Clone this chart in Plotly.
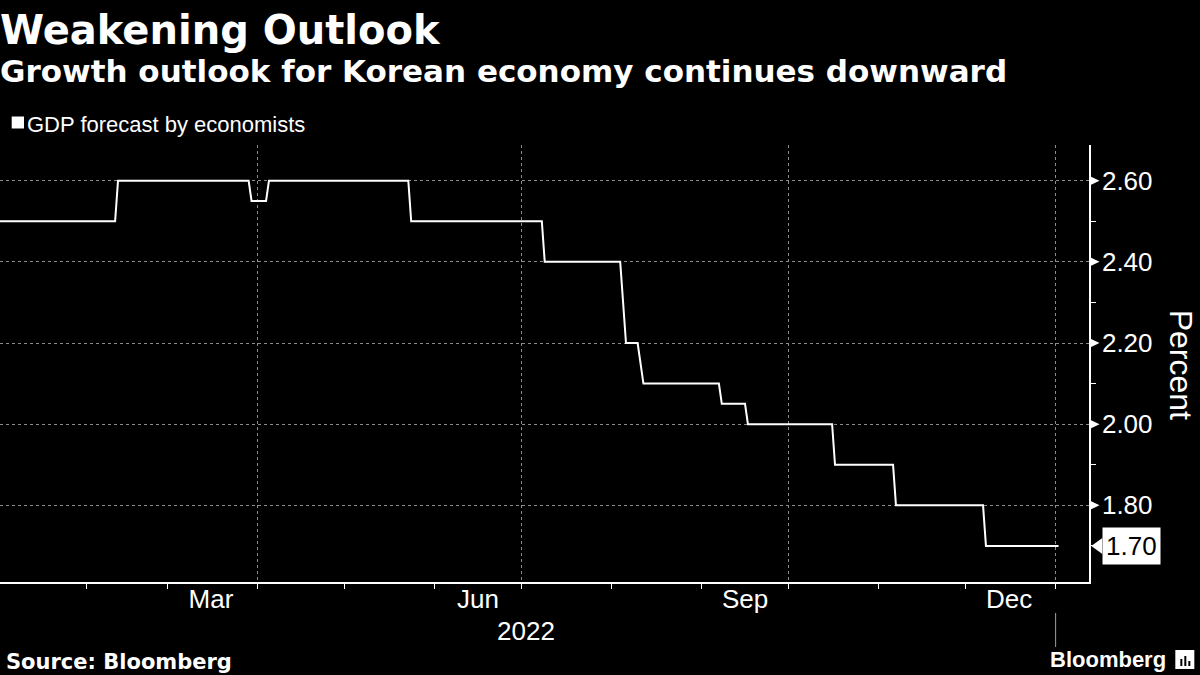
import plotly.graph_objects as go

# ---------------- data ----------------
dates = ["2022-01-01", "2022-02-11", "2022-02-12", "2022-03-29", "2022-03-30",
         "2022-04-04", "2022-04-05", "2022-05-23", "2022-05-24", "2022-07-08",
         "2022-07-09", "2022-08-04", "2022-08-06", "2022-08-10", "2022-08-12",
         "2022-09-07", "2022-09-08", "2022-09-16", "2022-09-17", "2022-10-16",
         "2022-10-17", "2022-11-06", "2022-11-07", "2022-12-07", "2022-12-08",
         "2023-01-02"]
gdp_forecast = [2.50, 2.50, 2.60, 2.60, 2.55,
                2.55, 2.60, 2.60, 2.50, 2.50,
                2.40, 2.40, 2.20, 2.20, 2.10,
                2.10, 2.05, 2.05, 2.00, 2.00,
                1.90, 1.90, 1.80, 1.80, 1.70,
                1.70]
y_ticks = [1.80, 2.00, 2.20, 2.40, 2.60]
month_label_dates = ["2022-03-16", "2022-06-16", "2022-09-16", "2022-12-16"]
month_labels = ["Mar", "Jun", "Sep", "Dec"]
year_label = "2022"
year_label_date = "2022-07-02 12:00"
year_boundary = "2023-01-01"
series_name = "GDP forecast by economists"
title = "Weakening Outlook"
subtitle = "Growth outlook for Korean economy continues downward"
source = "Source: Bloomberg"
y_title = "Percent"

# ---------------- geometry ----------------
W, H = 1200, 675
L, R, T, B = 0.0, 1088.7, 145.0, 582.0
x_range = ["2022-01-02 08:15", "2023-01-12 12:00"]
y_range = [1.611, 2.688]
px_per_unit = (B - T) / (y_range[1] - y_range[0])


def px_x(px):
    return (px - L) / (R - L)


def px_y(py):
    return (B - py) / (B - T)


WHITE = "white"
GRID = "#8c8c8c"
FONT = "Liberation Sans"
BOLD = "DejaVu Sans"

fig = go.Figure()
fig.add_trace(go.Scatter(x=dates, y=gdp_forecast, mode="lines", name=series_name,
                         line=dict(color=WHITE, width=2), showlegend=False))
fig.add_trace(go.Scatter(x=[], y=[], xaxis="x2", showlegend=False, hoverinfo="skip"))

shapes = []
# tick triangles on the right axis
tri_w = 10.5 / (R - L)
tri_h = 5.0 / px_per_unit
for v in y_ticks:
    shapes.append(dict(type="path", xref="paper", yref="y",
                       path=f"M 1,{v + tri_h} L {1 + tri_w},{v} L 1,{v - tri_h} Z",
                       fillcolor=WHITE, line=dict(width=0)))

# last value pointer
last_v = gdp_forecast[-1]
tip = px_x(1091)
base = px_x(1102)
ah = 8.0 / px_per_unit
shapes.append(dict(type="path", xref="paper", yref="y",
                   path=f"M {tip},{last_v} L {base},{last_v + ah} L {base},{last_v - ah} Z",
                   fillcolor=WHITE, line=dict(width=0)))

# year boundary marker below the axis
shapes.append(dict(type="line", xref="x", yref="paper", x0=year_boundary, x1=year_boundary,
                   y0=px_y(613), y1=px_y(647), line=dict(color="#a0a0a0", width=1)))

# legend square
shapes.append(dict(type="rect", xref="paper", yref="paper",
                   x0=px_x(11.7), x1=px_x(24), y0=px_y(128.5), y1=px_y(116.5),
                   fillcolor=WHITE, line=dict(width=0)))

# bloomberg icon
shapes.append(dict(type="rect", xref="paper", yref="paper",
                   x0=px_x(1175), x1=px_x(1194), y0=px_y(669), y1=px_y(650),
                   fillcolor=WHITE, line=dict(width=0)))
for bx, top in [(1180, 659), (1184, 656), (1188, 661)]:
    shapes.append(dict(type="rect", xref="paper", yref="paper",
                       x0=px_x(bx), x1=px_x(bx + 2), y0=px_y(666), y1=px_y(top),
                       fillcolor="black", line=dict(width=0)))

annotations = [
    dict(text=title, x=px_x(-2), y=px_y(30), xref="paper", yref="paper",
         xanchor="left", yanchor="middle", showarrow=False,
         font=dict(family=BOLD, size=40, color=WHITE, weight="bold")),
    dict(text=subtitle, x=px_x(-2), y=px_y(71), xref="paper", yref="paper",
         xanchor="left", yanchor="middle", showarrow=False,
         font=dict(family=BOLD, size=31, color=WHITE, weight="bold")),
    dict(text=series_name, x=px_x(25), y=px_y(124), xref="paper", yref="paper",
         xanchor="left", yanchor="middle", showarrow=False,
         font=dict(family=FONT, size=22, color=WHITE)),
    dict(text=source, x=px_x(4), y=px_y(662), xref="paper", yref="paper",
         xanchor="left", yanchor="middle", showarrow=False,
         font=dict(family=BOLD, size=21, color=WHITE, weight="bold")),
    dict(text="Bloomberg", x=px_x(1168), y=px_y(659), xref="paper", yref="paper",
         xanchor="right", yanchor="middle", showarrow=False,
         font=dict(family=FONT, size=22, color=WHITE, weight="bold")),
    dict(text=y_title, x=px_x(1181), y=px_y(365), xref="paper", yref="paper",
         xanchor="center", yanchor="middle", showarrow=False, textangle=90,
         font=dict(family=FONT, size=32, color=WHITE)),
    dict(text=year_label, x=year_label_date, y=px_y(631), xref="x", yref="paper",
         xanchor="center", yanchor="middle", showarrow=False,
         font=dict(family=FONT, size=26, color=WHITE)),
    dict(text=f"{last_v:.2f}", x=base - 0.0005, y=last_v, xref="paper", yref="y",
         xanchor="left", yanchor="middle", showarrow=False,
         bgcolor=WHITE, borderpad=3,
         font=dict(family=FONT, size=26, color="black")),
]

fig.update_layout(
    width=W, height=H,
    paper_bgcolor="black", plot_bgcolor="black",
    margin=dict(l=L, r=W - R, t=T, b=H - B, pad=0),
    font=dict(family=FONT, color=WHITE, size=26),
    showlegend=False,
    xaxis=dict(type="date", range=x_range, dtick="M3", tick0="2022-01-01",
               showgrid=True, gridcolor=GRID, griddash="3px,3px", gridwidth=1,
               showline=True, linecolor=WHITE, linewidth=1.5,
               ticks="outside", ticklen=5, tickcolor=WHITE, tickwidth=1,
               showticklabels=False, zeroline=False,
               minor=dict(dtick="M1", tick0="2022-01-01", ticks="outside",
                          ticklen=5, tickcolor=WHITE, showgrid=False)),
    xaxis2=dict(type="date", range=x_range, overlaying="x", anchor="y", side="bottom",
                tickmode="array", tickvals=month_label_dates, ticktext=month_labels,
                showgrid=False, showline=False, zeroline=False,
                ticks="", ticklabelstandoff=-1,
                tickfont=dict(family=FONT, size=26, color=WHITE)),
    yaxis=dict(side="right", range=y_range, tickmode="array", tickvals=y_ticks,
               tickformat=".2f", showgrid=True, gridcolor=GRID, griddash="3px,3px",
               gridwidth=1, showline=True, linecolor=WHITE, linewidth=1.5,
               ticks="outside", ticklen=6, tickcolor="rgba(0,0,0,0)",
               tickfont=dict(family=FONT, size=26, color=WHITE), zeroline=False,
               minor=dict(dtick=0.1, tick0=0, ticks="outside", ticklen=5,
                          tickcolor=WHITE, showgrid=False)),
    shapes=shapes,
    annotations=annotations,
)

fig.write_html("out.html", config={"displayModeBar": False},
               post_script="document.body.style.margin='0';document.body.style.background='black';")
